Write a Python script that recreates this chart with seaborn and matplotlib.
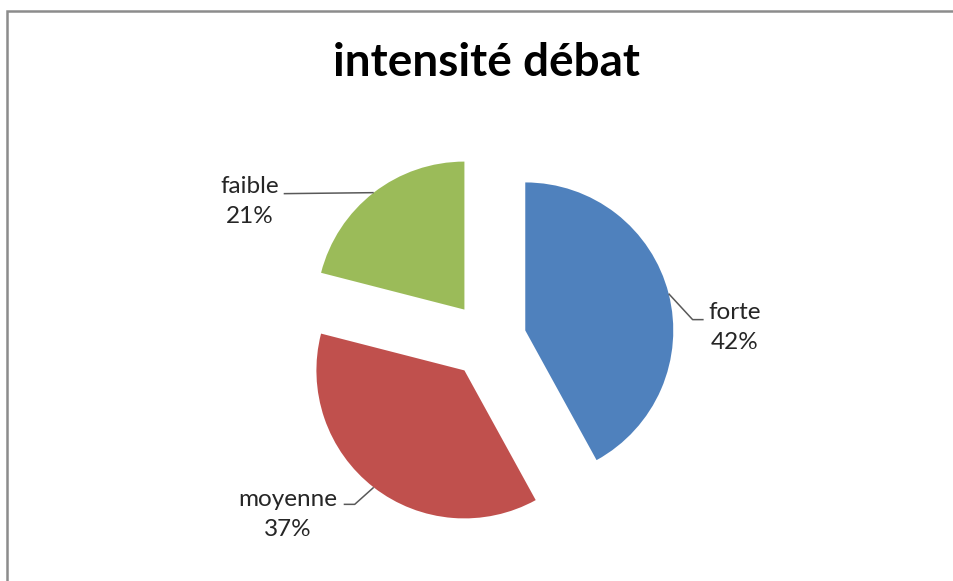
import numpy as np
import matplotlib
matplotlib.use("Agg")
import matplotlib.pyplot as plt
from matplotlib.lines import Line2D
import seaborn as sns

# Debate intensity shares
categories = ["forte", "moyenne", "faible"]
values = [42, 37, 21]
colors = ["#4F81BD", "#C0504D", "#9BBB59"]
title = "intensité débat"

sns.set_theme(style="white")
plt.rcParams["font.family"] = ["Lato", "DejaVu Sans"]

W, H, DPI = 954, 581, 100
fig = plt.figure(figsize=(W / DPI, H / DPI), dpi=DPI)
fig.patch.set_facecolor("white")

# Pie centre and radius in pixels; one data unit equals one radius
PX_R = 148.0
CX, CY = 488.0, 340.0
ax = fig.add_axes([0, 0, 1, 1])

wedges, _ = ax.pie(values, colors=colors, startangle=90, counterclock=False,
                   explode=[0.26] * len(values),
                   wedgeprops=dict(linewidth=0))
ax.set_xlim(-CX / PX_R, (W - CX) / PX_R)
ax.set_ylim(-(H - CY) / PX_R, CY / PX_R)
ax.set_aspect("auto")
ax.axis("off")

def px(dx, dy):
    # pixel offset (screen, y down) -> data offset
    return dx / PX_R, -dy / PX_R

# Leader line layout per label: elbow offset and text offset from arc midpoint (pixels)
layout = {
    "forte":   dict(elbow=(24, 26), end=(35, 26), text=(66, 34)),
    "moyenne": dict(elbow=(-19, 17), end=(-30, 17), text=(-86, 27)),
    "faible":  dict(elbow=(-45, 0.5), end=(-90, 1), text=(-124, 9)),
}

for w, cat, val in zip(wedges, categories, values):
    mid = np.deg2rad((w.theta1 + w.theta2) / 2)
    cx, cy = w.center
    ax_pt = (cx + w.r * np.cos(mid), cy + w.r * np.sin(mid))
    L = layout[cat]
    pts = [ax_pt]
    for key in ("elbow", "end"):
        d = px(*L[key])
        pts.append((ax_pt[0] + d[0], ax_pt[1] + d[1]))
    xs, ys = zip(*pts)
    ax.plot(xs, ys, color="#595959", lw=1.1, solid_capstyle="butt")
    t = px(*L["text"])
    ax.text(ax_pt[0] + t[0], ax_pt[1] + t[1], f"{cat}\n{val}%",
            ha="center", va="center", fontsize=17.5, color="#262626",
            linespacing=1.55)

fig.text(487 / W, 1 - 63 / H, title, ha="center", va="center",
         fontsize=33, fontweight="bold", color="black")

# Chart area frame (top and left edges visible, running off the canvas)
frame_kw = dict(transform=fig.transFigure, color="#8C8C8C", linewidth=1.8,
                solid_capstyle="butt", solid_joinstyle="miter")
top_y = 1 - 11 / H
left_x = 7 / W
fig.lines.append(Line2D([1.05, left_x, left_x], [top_y, top_y, -0.05], **frame_kw))

fig.savefig("out.png", dpi=DPI)
